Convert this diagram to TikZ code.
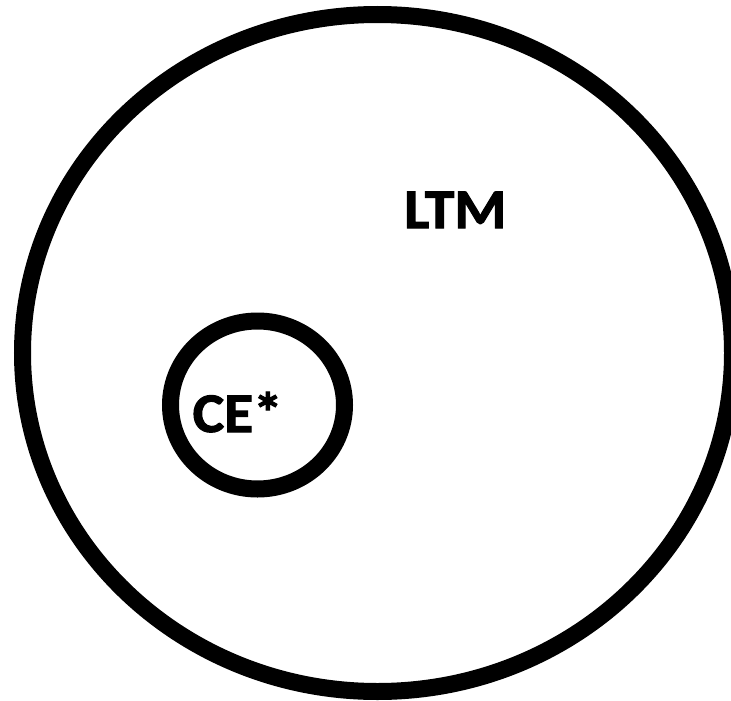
\documentclass[tikz,border=0pt]{standalone}
\usepackage{fontspec}
\setmainfont{Carlito}
\newfontfamily\lblfont[BoldFeatures={FakeBold=1.8}]{Carlito}
\begin{document}
\begin{tikzpicture}[x=1pt,y=-1pt,
  ring/.style={draw=black,line width=17pt},
  lbl/.style={font=\lblfont\bfseries\fontsize{56}{62}\selectfont,inner sep=0pt,text=black,anchor=base west,xscale=1.06,transform shape}]
\useasboundingbox (0,0) rectangle (731,701);
\clip (0,0) rectangle (731,701);
\fill[white] (0,0) rectangle (731,701);
\coordinate (ltmc) at (377.5,353);
\draw[ring] (ltmc) ellipse [x radius=355, y radius=338.5];
\coordinate (cec) at (257.5,405);
\draw[ring] (cec) ellipse [x radius=87, y radius=84];
\node[lbl] (ltm) at (404,228) {LTM};
\node[lbl] (ce) at (192.5,432) {CE*};
\end{tikzpicture}
\end{document}
